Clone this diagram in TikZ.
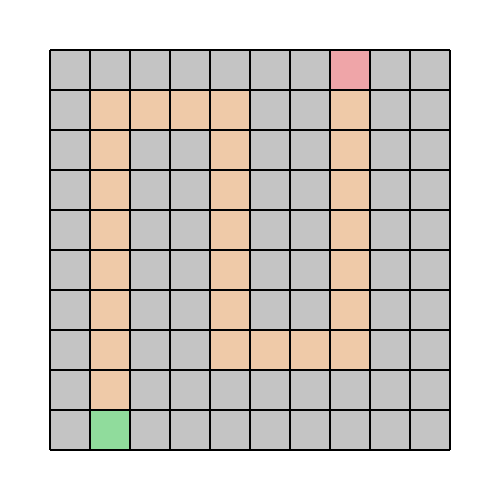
\documentclass[tikz,border=0pt]{standalone}
\usepackage{tikz}
\usetikzlibrary{calc}
\usepackage{xcolor}
\definecolor{mazegray}{HTML}{C4C4C4}
\definecolor{mazepath}{HTML}{EFCAA8}
\definecolor{mazegoal}{HTML}{EFA5A8}
\definecolor{mazestart}{HTML}{90DC9C}

\begin{document}
\begin{tikzpicture}[
  cell/.style={fill=mazegray},
  gridline/.style={line width=1.2pt, black}
]
  \useasboundingbox (-1.25,-1.25) rectangle (11.25,11.25);

  % background cells
  \fill[cell] (0,0) rectangle (10,10);

  % walked path (column, row from top)
  \foreach \c/\r in {1/1, 2/1, 3/1, 4/1, 7/1,
                     1/2, 4/2, 7/2, 1/3, 4/3, 7/3,
                     1/4, 4/4, 7/4, 1/5, 4/5, 7/5,
                     1/6, 4/6, 7/6,
                     1/7, 4/7, 5/7, 6/7, 7/7, 1/8}
    \fill[mazepath] (\c,9-\r) rectangle ++(1,1);

  % goal and start
  \fill[mazegoal] (7,9) rectangle ++(1,1);
  \fill[mazestart] (1,0) rectangle ++(1,1);

  % grid
  \draw[gridline] (0,0) grid (10,10);
\end{tikzpicture}
\end{document}
